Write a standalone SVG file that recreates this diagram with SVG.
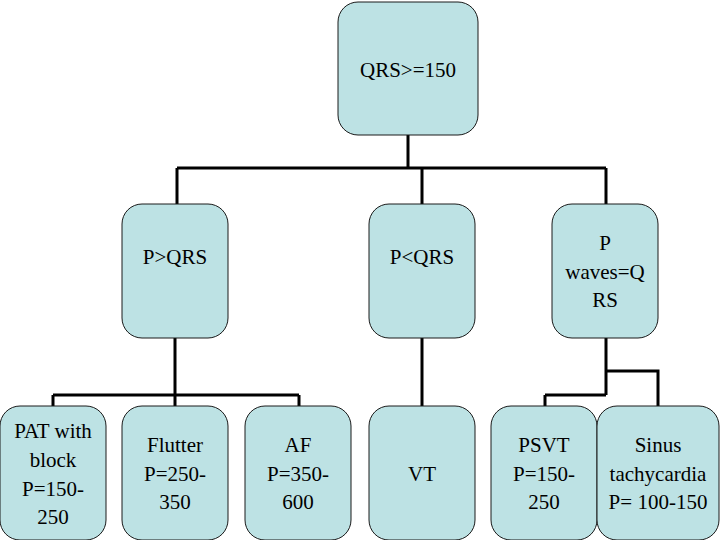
<svg xmlns="http://www.w3.org/2000/svg" width="720" height="540" viewBox="0 0 720 540">
<style>
.n{fill:#bde2e4;stroke:#1a1a1a;stroke-width:1}
.t{font-family:"Liberation Serif",serif;font-size:21px;fill:#000;text-anchor:middle}
.c{fill:none;stroke:#000;stroke-width:3}
</style>
<rect width="720" height="540" fill="#fff"/>
<g id="connectors">
<path class="c" d="M408 135V168M177 168H606M177 168V204M422 168V204M606 168V204"/>
<path class="c" d="M175 338V395M53 395H299M53 395V406M175 395V406M299 395V406"/>
<path class="c" d="M422 338V406"/>
<path class="c" d="M606 338V395M606 371H658V406M545 395H606M545 395V406"/>
</g>
<g id="root"><rect class="n" x="338" y="2" width="140" height="133" rx="20"/><text class="t" x="408" y="77">QRS&gt;=150</text></g>
<g id="pgt"><rect class="n" x="122" y="204" width="106" height="134" rx="20"/><text class="t" x="175" y="264">P&gt;QRS</text></g>
<g id="plt"><rect class="n" x="369" y="204" width="106" height="134" rx="20"/><text class="t" x="422" y="264">P&lt;QRS</text></g>
<g id="peq"><rect class="n" x="552" y="204" width="106" height="134" rx="20"/><text class="t" x="605" y="250">P</text><text class="t" x="605" y="279">waves=Q</text><text class="t" x="605" y="307">RS</text></g>
<g id="pat"><rect class="n" x="0" y="406" width="106" height="134" rx="20"/><text class="t" x="53" y="438">PAT with</text><text class="t" x="53" y="467">block</text><text class="t" x="53" y="496">P=150-</text><text class="t" x="53" y="524">250</text></g>
<g id="flutter"><rect class="n" x="122" y="406" width="106" height="134" rx="20"/><text class="t" x="175" y="452">Flutter</text><text class="t" x="175" y="481">P=250-</text><text class="t" x="175" y="509">350</text></g>
<g id="af"><rect class="n" x="245" y="406" width="106" height="134" rx="20"/><text class="t" x="298" y="452">AF</text><text class="t" x="298" y="481">P=350-</text><text class="t" x="298" y="509">600</text></g>
<g id="vt"><rect class="n" x="369" y="406" width="106" height="134" rx="20"/><text class="t" x="422" y="481">VT</text></g>
<g id="psvt"><rect class="n" x="491" y="406" width="106" height="134" rx="20"/><text class="t" x="544" y="452">PSVT</text><text class="t" x="544" y="481">P=150-</text><text class="t" x="544" y="509">250</text></g>
<g id="sinus"><rect class="n" x="597" y="406" width="122" height="134" rx="20"/><text class="t" x="658" y="452">Sinus</text><text class="t" x="658" y="481">tachycardia</text><text class="t" x="658" y="509">P= 100-150</text></g>
</svg>
